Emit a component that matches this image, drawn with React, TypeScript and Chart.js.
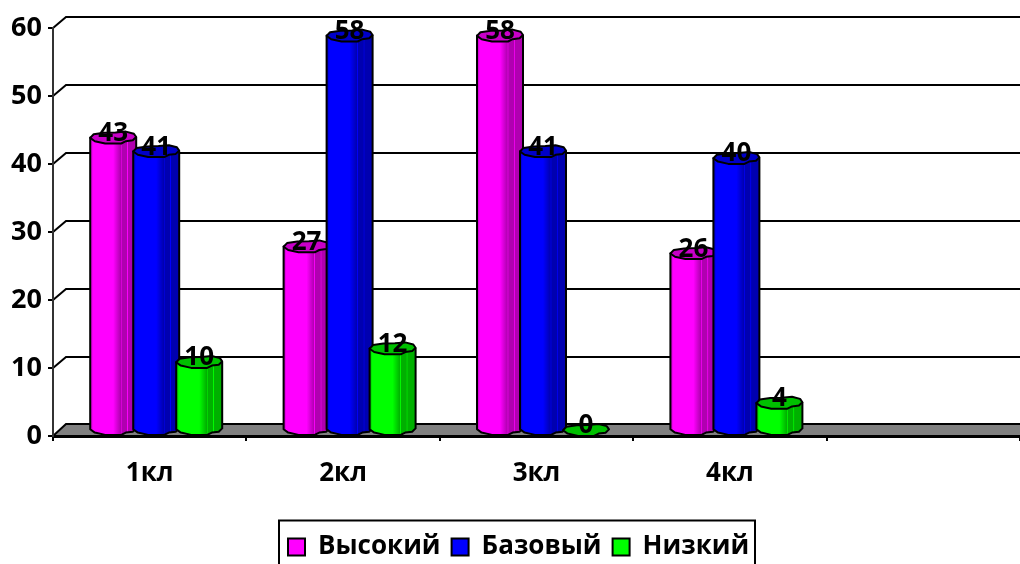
import React, { useEffect, useRef } from "react";
import { Chart, registerables } from "chart.js";

Chart.register(...registerables);

const categories = ["1кл", "2кл", "3кл", "4кл", ""];
const highValues = [43, 27, 58, 26, null];
const baseValues = [41, 58, 41, 40, null];
const lowValues = [10, 12, 0, 4, null];
const seriesNames = ["Высокий", "Базовый", "Низкий"];
const seriesColors = ["#FF00FF", "#0000FF", "#00FF00"];
const darkColors = ["#B000B0", "#0000B0", "#00B000"];
const capColors = ["#C800C8", "#0000C8", "#00C000"];
const yTicks = [0, 10, 20, 30, 40, 50, 60];

const FONT = "'Open Sans', 'Noto Sans', sans-serif";
const DX = 6.5;
const DY = 6;
const WALL_X = 13;
const WALL_Y = 11;
const RX_EXTRA = 1.5;
const RY = 6;

const backArc: [number, number][] = [
  [-1, 0.05], [-0.85, -0.55], [-0.4, -0.8], [0.1, -0.85], [0.55, -1], [0.9, -0.65], [1, -0.1],
];
const frontArc: [number, number][] = [
  [1, -0.1], [0.85, 0.45], [0.55, 0.6], [0.35, 0.98], [-0.35, 0.98], [-0.8, 0.6], [-1, 0.05],
];

const wallPlugin = {
  id: "wall",
  beforeDraw(chart: any) {
    const { ctx, scales } = chart;
    const y = scales.y;
    const left = y.right;
    const right = chart.width;
    ctx.save();
    const y0 = y.getPixelForValue(0);
    ctx.fillStyle = "#808080";
    ctx.beginPath();
    ctx.moveTo(left, y0);
    ctx.lineTo(left + WALL_X, y0 - WALL_Y - 1);
    ctx.lineTo(right, y0 - WALL_Y - 1);
    ctx.lineTo(right, y0);
    ctx.closePath();
    ctx.fill();
    ctx.strokeStyle = "#000";
    ctx.lineWidth = 2;
    yTicks.forEach((v) => {
      const p = y.getPixelForValue(v);
      const back = p - WALL_Y - (v === 0 ? 1 : 0);
      ctx.beginPath();
      ctx.moveTo(left, p);
      ctx.lineTo(left + WALL_X, back);
      ctx.lineTo(right, back);
      ctx.stroke();
    });
    ctx.restore();
  },
};

function drawCylinder(ctx: any, bar: any, idx: number, value: number) {
  const cx = bar.x + DX;
  const rx = bar.width / 2 + RX_EXTRA;
  const top = bar.y - DY;
  const bot = bar.base - DY;
  const l = cx - rx;
  const grad = ctx.createLinearGradient(l, 0, l + 2 * rx, 0);
  const bright = seriesColors[idx];
  const dark = darkColors[idx];
  grad.addColorStop(0, dark);
  grad.addColorStop(0.06, bright);
  grad.addColorStop(0.5, bright);
  grad.addColorStop(0.66, dark);
  grad.addColorStop(0.67, bright);
  grad.addColorStop(0.69, dark);
  grad.addColorStop(0.8, dark);
  grad.addColorStop(0.81, bright);
  grad.addColorStop(0.83, dark);
  grad.addColorStop(1, dark);
  ctx.lineWidth = 2;
  ctx.lineJoin = "round";
  ctx.strokeStyle = "#000";
  if (value > 0) {
    ctx.beginPath();
    ctx.moveTo(cx + rx, top);
    ctx.lineTo(cx + rx, bot - 0.6);
    frontArc.forEach(([ux, uy]) => ctx.lineTo(cx + ux * rx, bot + uy * RY));
    ctx.lineTo(cx - rx, top);
    ctx.closePath();
    ctx.fillStyle = grad;
    ctx.fill();
    ctx.stroke();
  }
  ctx.beginPath();
  backArc.forEach(([ux, uy], i) => {
    const px = cx + ux * rx;
    const py = top + uy * RY;
    if (i === 0) ctx.moveTo(px, py);
    else ctx.lineTo(px, py);
  });
  frontArc.forEach(([ux, uy]) => ctx.lineTo(cx + ux * rx, top + uy * RY));
  ctx.closePath();
  ctx.fillStyle = capColors[idx];
  ctx.fill();
  ctx.stroke();
}

const cylinderPlugin = {
  id: "cylinders",
  beforeDatasetsDraw(chart: any) {
    const { ctx } = chart;
    ctx.save();
    const metas = chart.data.datasets.map((_: any, i: number) => chart.getDatasetMeta(i));
    metas.forEach((meta: any, i: number) => {
      meta.data.forEach((bar: any, j: number) => {
        const v = chart.data.datasets[i].data[j];
        if (v == null) return;
        drawCylinder(ctx, bar, i, v);
      });
    });
    ctx.fillStyle = "#000";
    ctx.font = `bold 26px ${FONT}`;
    ctx.textAlign = "center";
    ctx.textBaseline = "middle";
    metas.forEach((meta: any, i: number) => {
      meta.data.forEach((bar: any, j: number) => {
        const v = chart.data.datasets[i].data[j];
        if (v == null) return;
        ctx.fillText(String(v), bar.x + DX, bar.y - 10);
      });
    });
    ctx.restore();
    return false;
  },
};

const legendPlugin = {
  id: "legendFrame",
  afterLayout(chart: any) {
    const lg = chart.legend;
    lg.left = 277;
    lg.right = 820;
    lg.width = 543;
    lg.top = 523;
  },
  afterDraw(chart: any) {
    const { ctx } = chart;
    ctx.save();
    ctx.strokeStyle = "#000";
    ctx.lineWidth = 2;
    ctx.strokeRect(279, 520.5, 476, 60);
    ctx.restore();
  },
};

export default function App() {
  const ref = useRef<HTMLCanvasElement | null>(null);
  useEffect(() => {
    document.body.style.margin = "0";
    const chart = new Chart(ref.current as any, {
      type: "bar",
      data: {
        labels: categories,
        datasets: [highValues, baseValues, lowValues].map((data, i) => ({
          label: seriesNames[i],
          data,
          backgroundColor: seriesColors[i],
          borderColor: "#000",
          borderWidth: 2,
          categoryPercentage: 0.667,
          barPercentage: 1,
        })),
      } as any,
      options: {
        animation: false,
        responsive: false,
        layout: { padding: { top: 28, left: 0, right: 0, bottom: 0 } },
        plugins: {
          tooltip: { enabled: false },
          legend: {
            position: "bottom",
            align: "start",
            labels: {
              color: "#000",
              font: { family: FONT, size: 26, weight: "bold" },
              boxWidth: 17,
              boxHeight: 17,
              padding: 11,
            },
          },
        },
        scales: {
          x: {
            grid: { drawOnChartArea: false, drawTicks: true, tickLength: 5, color: "#000", lineWidth: 2 },
            border: { color: "#000", width: 3 },
            ticks: { color: "#000", font: { family: FONT, size: 26, weight: "bold" }, padding: 17, maxRotation: 0 },
            afterFit(scale: any) {
              scale.height = 564 - 436 - scale.chart.legend.height;
            },
          },
          y: {
            min: 0,
            max: 60,
            afterBuildTicks(scale: any) {
              scale.ticks = yTicks.map((value) => ({ value }));
            },
            grid: { drawOnChartArea: false, drawTicks: true, tickLength: 5, color: "#000", lineWidth: 2 },
            border: { color: "#333", width: 2 },
            ticks: { color: "#000", font: { family: FONT, size: 27, weight: "bold" }, padding: 6 },
            afterFit(scale: any) {
              scale.width = 53;
            },
          },
        },
      } as any,
      plugins: [wallPlugin, cylinderPlugin, legendPlugin],
    });
    return () => chart.destroy();
  }, []);
  return <canvas ref={ref} width={1020} height={564} style={{ display: "block" }} />;
}
